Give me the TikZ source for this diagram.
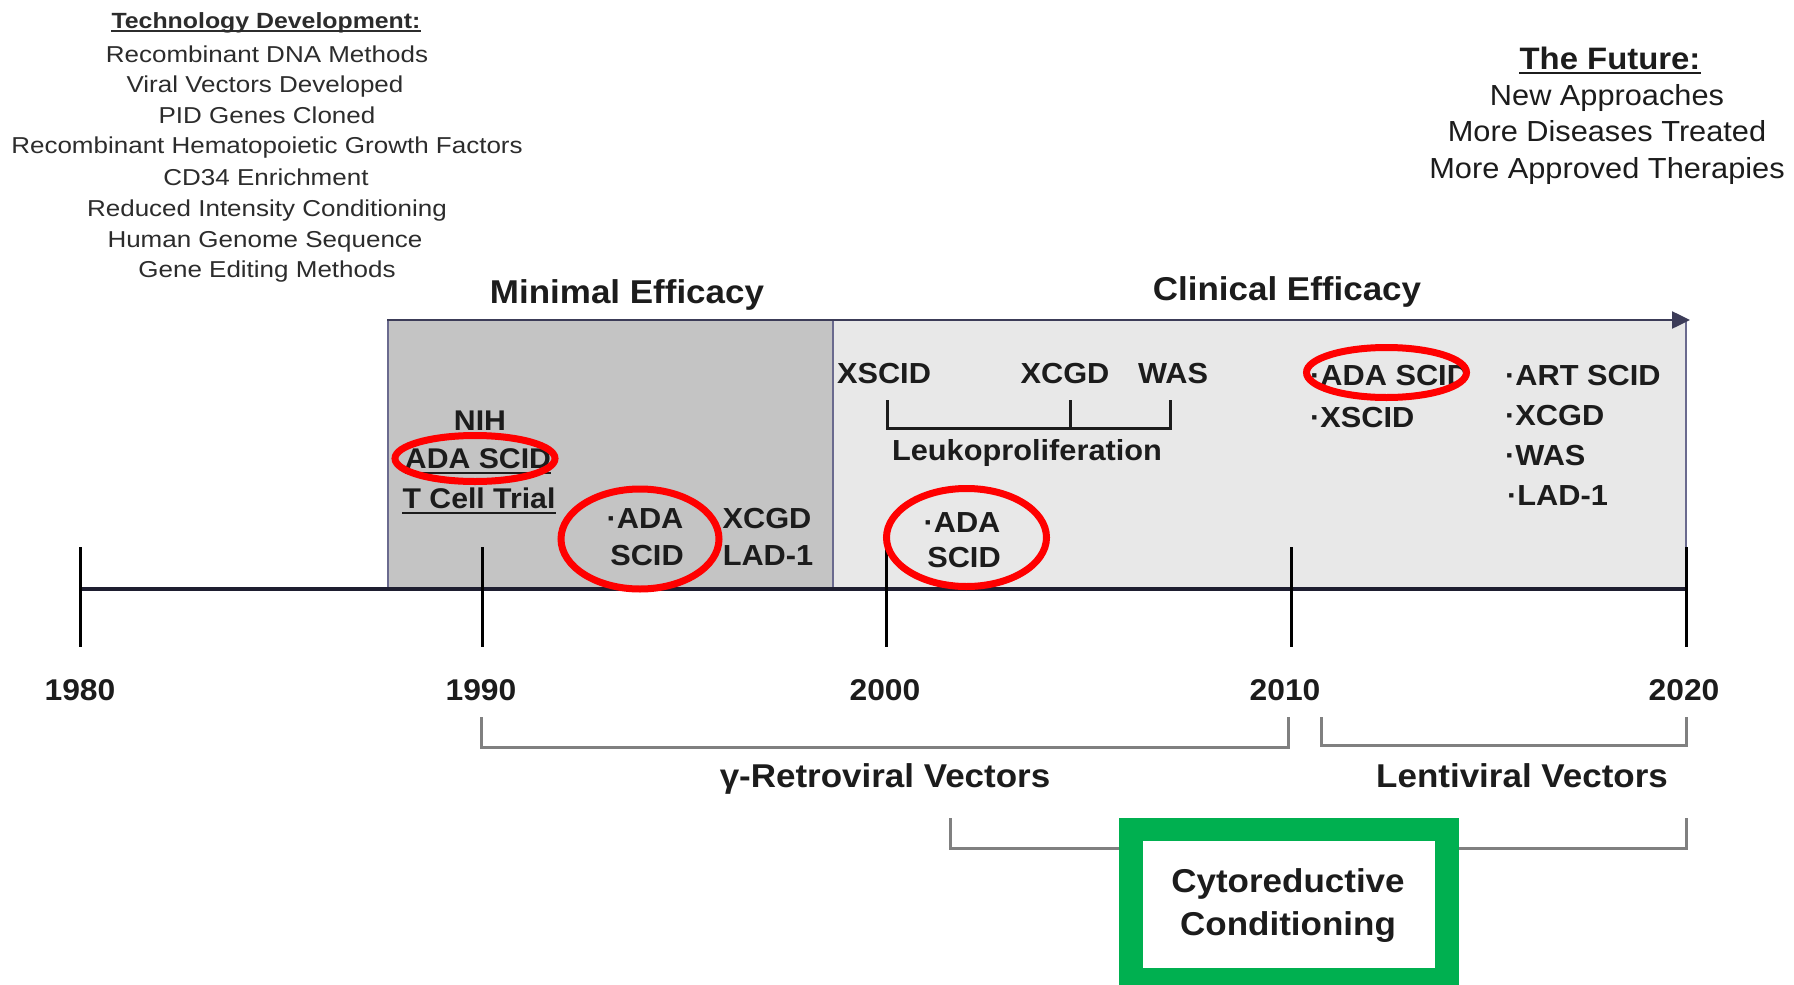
\documentclass[tikz,border=0pt]{standalone}
\usepackage{fontspec}
\setmainfont{Liberation Sans}[FakeStretch=1.06]
\newfontfamily\listfont{Liberation Sans}[FakeStretch=1.13]
\usetikzlibrary{arrows.meta}
\newcommand\setsz[2]{\fontsize{#1}{#2}\selectfont}
\definecolor{boxgray}{HTML}{C4C4C4}
\definecolor{boxlight}{HTML}{E8E8E8}
\definecolor{edge}{HTML}{6A6A8E}
\definecolor{arrowc}{HTML}{3C3C58}
\definecolor{tl}{HTML}{1E1E30}
\definecolor{ink}{HTML}{1C1C1C}
\definecolor{listink}{HTML}{2C2C2C}
\definecolor{hl}{HTML}{FF0000}
\definecolor{grn}{HTML}{00B050}
\definecolor{brk}{HTML}{808080}
\tikzset{
  lbl/.style={inner sep=0pt, anchor=base, text=ink, font=\bfseries\setsz{29}{35}},
  head/.style={lbl, font=\bfseries\setsz{33}{40}},
  year/.style={lbl, font=\bfseries\setsz{30}{36}},
  tech/.style={inner sep=0pt, anchor=base, text=listink, font=\listfont\setsz{23}{28}},
  future/.style={inner sep=0pt, anchor=base, text=ink, font=\setsz{29}{34}},
  hilite/.style={draw=hl, line width=7pt},
  bracket/.style={draw=brk, line width=3pt},
  tickline/.style={draw=black, line width=3pt},
  uline/.style={draw=ink, line width=2.5pt},
}
\begin{document}
\begin{tikzpicture}[x=1pt,y=-1pt]
\useasboundingbox (0,0) rectangle (1794,985);
\fill[white] (0,0) rectangle (1794,985);

% technology development list
\node[tech, font=\listfont\bfseries\setsz{22}{26}] (techhead) at (266,28) {Technology Development:};
\draw[uline, line width=2pt, listink] ([yshift=-3pt]techhead.base west) -- ([yshift=-3pt]techhead.base east);
\node[tech] (tech1) at (267,62)  {Recombinant DNA Methods};
\node[tech] (tech2) at (265,92)  {Viral Vectors Developed};
\node[tech] (tech3) at (267,123) {PID Genes Cloned};
\node[tech] (tech4) at (267,153) {Recombinant Hematopoietic Growth Factors};
\node[tech] (tech5) at (266,185) {CD34 Enrichment};
\node[tech] (tech6) at (267,216) {Reduced Intensity Conditioning};
\node[tech] (tech7) at (265,247) {Human Genome Sequence};
\node[tech] (tech8) at (267,277) {Gene Editing Methods};

% the future
\node[future, font=\bfseries\setsz{31}{36}] (futhead) at (1610,69) {The Future:};
\draw[uline] ([yshift=-4pt]futhead.base west) -- ([yshift=-4pt]futhead.base east);
\node[future] (fut1) at (1607,105) {New Approaches};
\node[future] (fut2) at (1607,141) {More Diseases Treated};
\node[future] (fut3) at (1607,178) {More Approved Therapies};

% efficacy periods
\node[head] (minimal) at (627,303) {Minimal Efficacy};
\node[head] (clinical) at (1287,300) {Clinical Efficacy};
\fill[boxgray] (388,320) rectangle (833,589);
\fill[boxlight] (833,320) rectangle (1686,589);
\draw[edge, line width=2pt] (388,589) -- (388,320);
\draw[edge, line width=2pt] (833,320) -- (833,589);
\draw[edge, line width=2pt] (1686,320) -- (1686,589);
\coordinate (arrstart) at (387,320);
\coordinate (arrend) at (1690,320);
\draw[arrowc, line width=2.5pt, -{Triangle[length=18pt,width=17pt]}] (arrstart) -- (arrend);

% time axis
\coordinate (y1980) at (80,589);
\coordinate (y1990) at (482,589);
\coordinate (y2000) at (886,589);
\coordinate (y2010) at (1291,589);
\coordinate (y2020) at (1686,589);
\draw[tl, line width=4pt] (y1980) -- (y2020);
\foreach \c in {y1980,y1990,y2000,y2010,y2020}
  \draw[tickline] ([yshift=42pt]\c) -- ([yshift=-58pt]\c);
\node[year] (l1980) at (80,700) {1980};
\node[year] (l1990) at (481,700) {1990};
\node[year] (l2000) at (885,700) {2000};
\node[year] (l2010) at (1285,700) {2010};
\node[year] (l2020) at (1684,700) {2020};

% vector eras
\draw[bracket] (481,717) |- (1288,747) -- (1288,717);
\draw[bracket] (1321,717) |- (1686,745) -- (1686,717);
\node[head] (retro) at (885,787) {γ-Retroviral Vectors};
\node[head] (lenti) at (1522,787) {Lentiviral Vectors};
\draw[bracket] (950,818) |- (1686,848) -- (1686,818);
\draw[grn, line width=23.5pt, fill=white] (1131,829.5) rectangle (1447,980);
\node[head] (cyto1) at (1288,892) {Cytoreductive};
\node[head] (cyto2) at (1288,935) {Conditioning};

% early trials
\node[lbl, font=\bfseries\setsz{28.5}{34}] (nih) at (480,430) {NIH};
\node[lbl, font=\bfseries\setsz{28.5}{34}] (nihada) at (478,468) {ADA SCID};
\node[lbl, font=\bfseries\setsz{28.5}{34}] (nihtc) at (479,508) {T Cell Trial};
\draw[uline] ([yshift=-5pt]nihada.base west) -- ([yshift=-5pt]nihada.base east);
\draw[uline] ([yshift=-5pt]nihtc.base west) -- ([yshift=-5pt]nihtc.base east);
\node[lbl] (ada90a) at (645,528) {·ADA};
\node[lbl] (ada90b) at (647,565) {SCID};
\node[lbl] (xcgd90) at (767,528) {XCGD};
\node[lbl] (lad90) at (768,565) {LAD-1};

% clinical efficacy period
\node[lbl] (xscid00) at (884,383) {XSCID};
\node[lbl] (xcgd00) at (1065,383) {XCGD};
\node[lbl] (was00) at (1173,383) {WAS};
\draw[draw=ink, line width=3pt] (887,400) |- (1170,428) -- (1170,400);
\draw[draw=ink, line width=3pt] (1070,400) -- (1070,428);
\node[lbl] (leuko) at (1027,460) {Leukoproliferation};
\node[lbl] (ada00a) at (962,532) {·ADA};
\node[lbl] (ada00b) at (964,567) {SCID};
\node[lbl, anchor=base west] (ada10) at (1310,385) {·ADA SCID};
\node[lbl, anchor=base west] (xscid10) at (1310,427) {·XSCID};
\node[lbl, anchor=base west] (art10) at (1505,385) {·ART SCID};
\node[lbl, anchor=base west] (xcgd10) at (1505,425) {·XCGD};
\node[lbl, anchor=base west] (was10) at (1505,465) {·WAS};
\node[lbl, anchor=base west] (lad10) at (1507,505) {·LAD-1};

% highlighted ADA SCID entries
\draw[hilite] (475,458.5) ellipse [x radius=80, y radius=23];
\draw[hilite] (640,539) ellipse [x radius=79, y radius=50];
\draw[hilite] (966.5,537.5) ellipse [x radius=80, y radius=49];
\draw[hilite] (1386.5,372.5) ellipse [x radius=80, y radius=25];
\end{tikzpicture}
\end{document}
